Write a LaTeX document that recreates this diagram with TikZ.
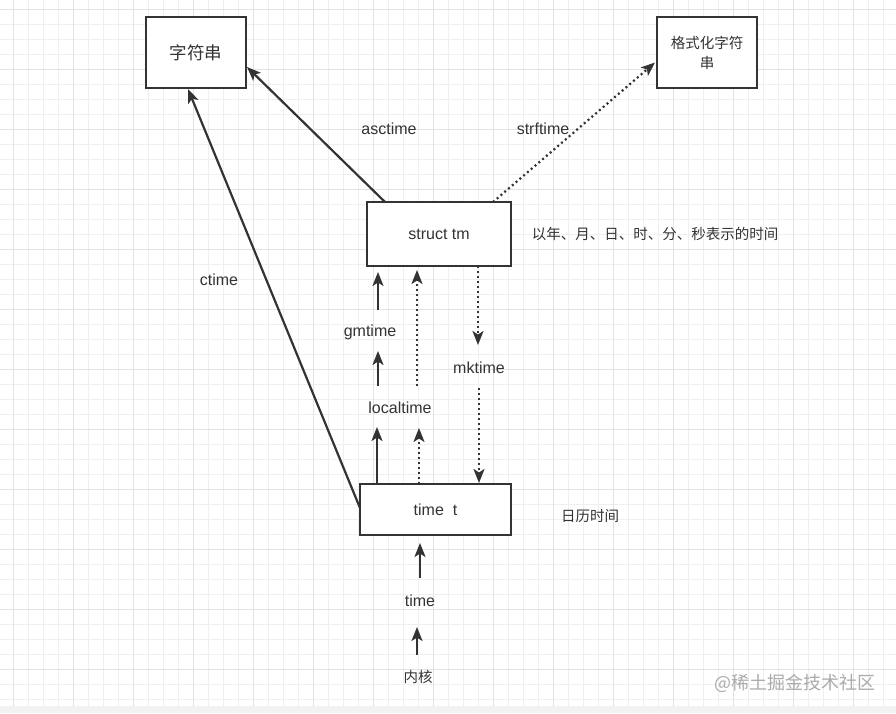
\documentclass[tikz,border=0pt]{standalone}
\usepackage{fontspec}
\setmainfont{Liberation Sans}
\newfontfamily\cjkfont{Noto Sans CJK SC}
\usetikzlibrary{arrows.meta}
\definecolor{ink}{HTML}{333333}
\definecolor{gridminor}{HTML}{EFEFEF}
\definecolor{gridmajor}{HTML}{E3E3E3}
\definecolor{band}{HTML}{F2F2F2}
\definecolor{wm}{HTML}{ABABAB}
\tikzset{
  box/.style={draw=ink, line width=2.2pt, fill=white, inner sep=0pt, outer sep=0pt, text=ink},
  lat/.style={text=ink, inner sep=0pt, font=\fontsize{16}{19}\selectfont},
  cjk/.style={text=ink, inner sep=0pt, font=\cjkfont\fontsize{14.5}{18}\selectfont},
  solidarr/.style={draw=ink, line width=2.2pt, -{Stealth[length=14pt,width=11pt,inset=3.5pt]}},
  dotarr/.style={draw=ink, line width=2.2pt, dash pattern=on 2pt off 3pt, -{Stealth[length=14pt,width=11pt,inset=3.5pt]}}
}
\begin{document}
\begin{tikzpicture}[x=1pt,y=-1pt]
\useasboundingbox (0,0) rectangle (896,713);
\fill[white] (0,0) rectangle (896,713);
% grid
\foreach \i in {0,...,59} {
  \pgfmathsetmacro\xx{13+15*\i}
  \draw[gridminor, line width=1pt] (\xx,0) -- (\xx,706);
}
\foreach \i in {0,...,46} {
  \pgfmathsetmacro\yy{9+15*\i}
  \draw[gridminor, line width=1pt] (0,\yy) -- (896,\yy);
}
\foreach \i in {0,...,14} {
  \pgfmathsetmacro\xx{13+60*\i}
  \draw[gridmajor, line width=1pt] (\xx,0) -- (\xx,706);
}
\foreach \i in {0,...,11} {
  \pgfmathsetmacro\yy{9+60*\i}
  \draw[gridmajor, line width=1pt] (0,\yy) -- (896,\yy);
}
\fill[band] (0,706) rectangle (896,713);

% boxes
\node[box, minimum width=100pt, minimum height=71pt, font=\cjkfont\fontsize{17.5}{20}\selectfont] (str) at (196,52.5) {字符串};
\node[box, minimum width=100pt, minimum height=71pt, align=center, font=\cjkfont\fontsize{14.5}{20}\selectfont] (fmt) at (707,52.5) {格式化字符\\串};
\node[box, minimum width=144pt, minimum height=64pt, font=\fontsize{16}{19}\selectfont] (tm) at (439,234) {struct tm};
\node[box, minimum width=151pt, minimum height=51pt, font=\fontsize{16}{19}\selectfont] (tt) at (435.5,509.5) {time\ \ t};

% side labels
\node[cjk] (tmdesc) at (655,234) {以年、月、日、时、分、秒表示的时间};
\node[cjk] (ttdesc) at (590,516) {日历时间};

% edge labels
\node[lat] (lasc) at (389,129) {asctime};
\node[lat] (lstrf) at (543,129) {strftime};
\node[lat] (lctime) at (219,280) {ctime};
\node[lat] (lgm) at (370,332) {gmtime};
\node[lat] (lloc) at (400,408) {localtime};
\node[lat] (lmk) at (479,368) {mktime};
\node[lat] (ltime) at (420,601) {time};
\node[cjk] (lkern) at (418,677) {内核};

% free ends
\coordinate (g1s) at (378,310);
\coordinate (g2s) at (378,386);
\coordinate (g2e) at (378,351);
\coordinate (g3e) at (377,427);
\coordinate (l1s) at (417,386);
\coordinate (l2e) at (419,428);
\coordinate (m1e) at (478,345);
\coordinate (m2s) at (479,388);
\coordinate (ts) at (420,578);
\coordinate (ks) at (417,655);
\coordinate (ke) at (417,627);

% connectors
\draw[solidarr] ([xshift=18pt]tm.north west) -- ([xshift=1pt,yshift=21pt]str.south east);
\draw[solidarr] ([yshift=27pt]tt.south west) -- ([xshift=-8pt,yshift=-1pt]str.south);
\draw[dotarr] ([xshift=-18pt]tm.north east) -- ([xshift=-2pt,yshift=-10pt]fmt.west);

\draw[solidarr] (g1s) -- ([xshift=11pt,yshift=-6pt]tm.south west);
\draw[solidarr] (g2s) -- (g2e);
\draw[solidarr] ([xshift=17pt]tt.north west) -- (g3e);

\draw[dotarr] (l1s) -- ([xshift=50pt,yshift=-4pt]tm.south west);
\draw[dotarr] ([xshift=59pt]tt.north west) -- (l2e);

\draw[dotarr] ([xshift=111pt]tm.south west) -- (m1e);
\draw[dotarr] (m2s) -- ([xshift=119pt,yshift=1pt]tt.north west);

\draw[solidarr] (ts) -- ([xshift=-15.5pt,yshift=-8pt]tt.south);
\draw[solidarr] (ks) -- (ke);

% watermark
\node[text=wm, inner sep=0pt, font=\cjkfont\fontsize{18}{20}\selectfont] (wmark) at (795,683) {@稀土掘金技术社区};
\end{tikzpicture}
\end{document}
